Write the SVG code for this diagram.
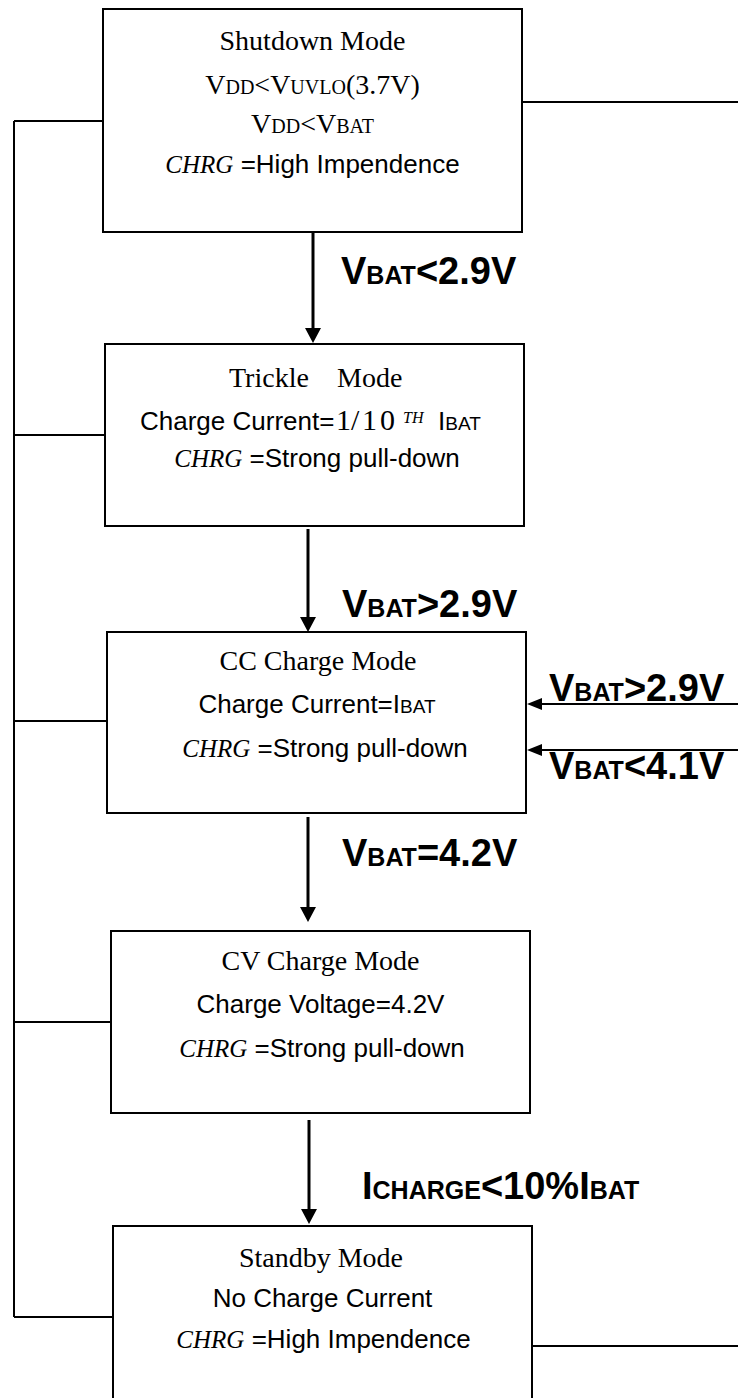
<svg xmlns="http://www.w3.org/2000/svg" width="738" height="1398" viewBox="0 0 738 1398">
<defs>
<style>
.box{fill:#fff;stroke:#000;stroke-width:2}
.ln{fill:none;stroke:#000;stroke-width:2}
.arr{fill:none;stroke:#000;stroke-width:3}
.tr{font-family:"Liberation Serif","Times New Roman",serif;font-size:28px;fill:#000}
.ar{font-family:"Liberation Sans",Arial,sans-serif;font-size:26px;fill:#000}
.it{font-family:"Liberation Serif","Times New Roman",serif;font-style:italic;font-size:25px}
.sa{font-family:"Liberation Sans",Arial,sans-serif;font-size:26px}
.ss{font-size:20px}
.sb{font-size:19px}
.lb{font-family:"Liberation Sans",Arial,sans-serif;font-weight:bold;font-size:38px;fill:#000}
.sm{font-size:25px}
</style>
<marker id="ah" viewBox="0 0 15 16" refX="0" refY="8" markerWidth="15" markerHeight="16" markerUnits="userSpaceOnUse" orient="auto">
<path d="M0,0 L15,8 L0,16 z" fill="#000"/>
</marker>
<marker id="ahs" viewBox="0 0 15 12" refX="0" refY="6" markerWidth="15" markerHeight="12" markerUnits="userSpaceOnUse" orient="auto">
<path d="M0,0 L15,6 L0,12 z" fill="#000"/>
</marker>
</defs>
<rect width="738" height="1398" fill="#fff"/>

<g id="connectors">
<path class="ln" d="M14,121 V1317"/>
<path class="ln" d="M14,121 H103"/>
<path class="ln" d="M14,435 H105"/>
<path class="ln" d="M14,721 H107"/>
<path class="ln" d="M14,1022 H111"/>
<path class="ln" d="M14,1317 H113"/>
<path class="ln" d="M522,102 H738"/>
<path class="ln" d="M532,1346 H738"/>
<path class="arr" d="M313,232 V328" marker-end="url(#ah)"/>
<path class="arr" d="M308,529 V617" marker-end="url(#ah)"/>
<path class="arr" d="M308,817 V907" marker-end="url(#ah)"/>
<path class="arr" d="M309,1120 V1209" marker-end="url(#ah)"/>
<path class="ln" d="M738,704 H542" marker-end="url(#ahs)"/>
<path class="ln" d="M738,750 H542" marker-end="url(#ahs)"/>
<text class="lb" x="341" y="284">V<tspan class="sm">BAT</tspan>&lt;2.9V</text>
<text class="lb" x="342" y="617">V<tspan class="sm">BAT</tspan>&gt;2.9V</text>
<text class="lb" x="342" y="866">V<tspan class="sm">BAT</tspan>=4.2V</text>
<text class="lb" x="362" y="1199">I<tspan class="sm">CHARGE</tspan>&lt;10%I<tspan class="sm">BAT</tspan></text>
<text class="lb" x="549" y="701">V<tspan class="sm">BAT</tspan>&gt;2.9V</text>
<text class="lb" x="549" y="779">V<tspan class="sm">BAT</tspan>&lt;4.1V</text>
</g>

<g id="shutdown">
<rect class="box" x="103" y="9" width="419" height="223"/>
<text class="tr" x="312.5" y="50" text-anchor="middle">Shutdown Mode</text>
<text class="tr" x="312.5" y="94" text-anchor="middle">V<tspan class="ss">DD</tspan>&lt;V<tspan class="ss">UVLO</tspan>(3.7V)</text>
<text class="tr" x="312.5" y="133" text-anchor="middle">V<tspan class="ss">DD</tspan>&lt;V<tspan class="ss">BAT</tspan></text>
<text class="tr" x="312.5" y="173" text-anchor="middle"><tspan class="it">CHRG</tspan><tspan class="sa"> =High Impendence</tspan></text>
</g>

<g id="trickle">
<rect class="box" x="105" y="344" width="419" height="182"/>
<text class="tr" y="387"><tspan x="229">Trickle</tspan><tspan x="337">Mode</tspan></text>
<text class="ar" x="140" y="430">Charge Current=<tspan class="tr" style="font-size:30px" x="336">1</tspan><tspan class="tr" style="font-size:30px" x="351">/</tspan><tspan class="tr" style="font-size:30px;letter-spacing:3px" x="362">10</tspan><tspan class="it" style="font-size:16px" x="403" y="423">TH</tspan><tspan x="438" y="430">I</tspan><tspan class="sb">BAT</tspan></text>
<text class="tr" x="317" y="467" text-anchor="middle"><tspan class="it">CHRG</tspan><tspan class="sa"> =Strong pull-down</tspan></text>
</g>

<g id="cc">
<rect class="box" x="107" y="632" width="419" height="181"/>
<text class="tr" x="318" y="670" text-anchor="middle">CC Charge Mode</text>
<text class="ar" x="317" y="713" text-anchor="middle">Charge Current=I<tspan class="sb">BAT</tspan></text>
<text class="tr" x="325" y="757" text-anchor="middle"><tspan class="it">CHRG</tspan><tspan class="sa"> =Strong pull-down</tspan></text>
</g>

<g id="cv">
<rect class="box" x="111" y="931" width="419" height="182"/>
<text class="tr" x="320.5" y="970" text-anchor="middle">CV Charge Mode</text>
<text class="ar" x="320.5" y="1013" text-anchor="middle">Charge Voltage=4.2V</text>
<text class="tr" x="322" y="1057" text-anchor="middle"><tspan class="it">CHRG</tspan><tspan class="sa"> =Strong pull-down</tspan></text>
</g>

<g id="standby">
<rect class="box" x="113" y="1226" width="419" height="190"/>
<text class="tr" x="321" y="1267" text-anchor="middle">Standby Mode</text>
<text class="ar" x="322.5" y="1307" text-anchor="middle">No Charge Current</text>
<text class="tr" x="323.5" y="1348" text-anchor="middle"><tspan class="it">CHRG</tspan><tspan class="sa"> =High Impendence</tspan></text>
</g>
</svg>
